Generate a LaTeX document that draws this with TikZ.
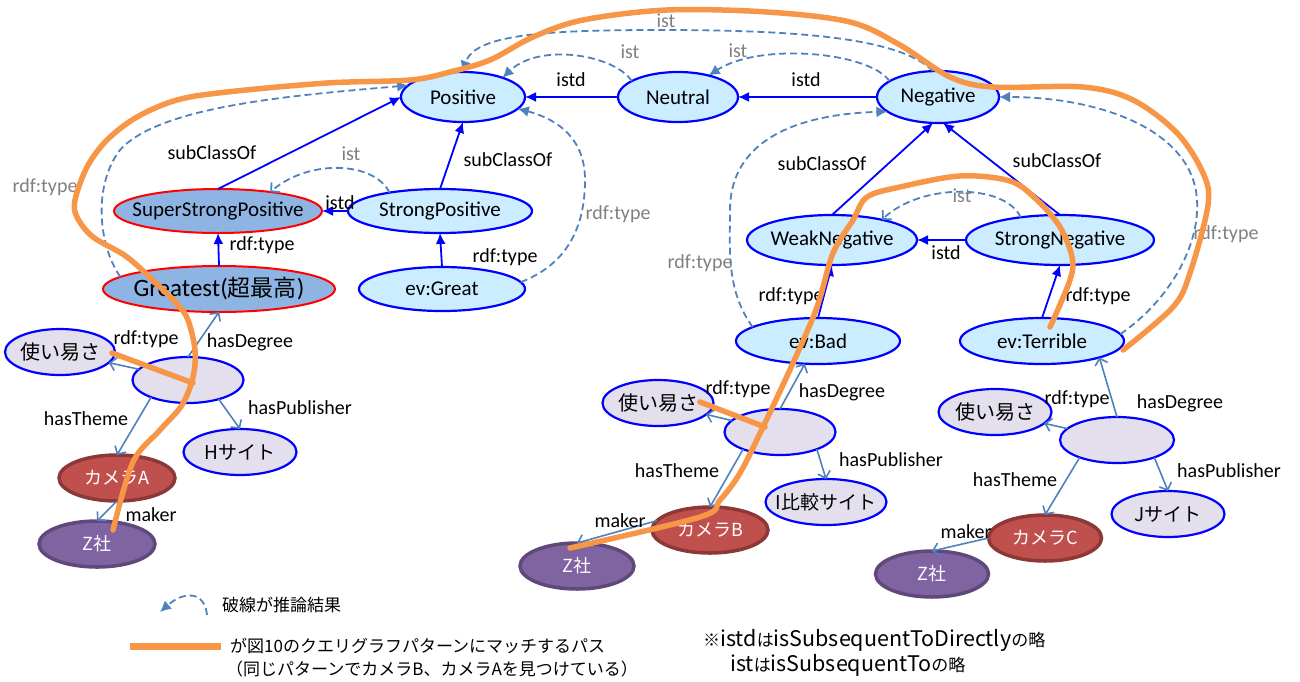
\documentclass[tikz,border=0pt]{standalone}
\usepackage{fontspec}
\setmainfont{Carlito}
\newfontfamily\jp{Noto Sans CJK JP}
\usetikzlibrary{shapes.geometric,arrows.meta}
\definecolor{nblue}{HTML}{0000FF}
\definecolor{lblue}{HTML}{CCECFF}
\definecolor{mblue}{HTML}{8EB4E3}
\definecolor{lav}{HTML}{E4DFEC}
\definecolor{camred}{HTML}{C0504D}
\definecolor{camedge}{HTML}{8C3836}
\definecolor{purp}{HTML}{8064A2}
\definecolor{purpedge}{HTML}{5F497A}
\definecolor{steel}{HTML}{4F81BD}
\definecolor{orng}{HTML}{F79646}
\definecolor{glbl}{HTML}{808080}
\newcommand{\lat}[1]{{\fontsize{21.5}{23}\selectfont #1}}
\begin{document}
\begin{tikzpicture}[x=1pt,y=-1pt,
  base/.style={ellipse, inner xsep=-45pt, inner ysep=-8pt, outer sep=0pt, font=\fontsize{21}{23}\selectfont},
  cls/.style={base, draw=nblue, line width=2.2pt, fill=lblue},
  supr/.style={base, draw=red, line width=2pt, fill=mblue},
  inst/.style={base, draw=nblue, line width=2.2pt, fill=lav, font=\jp\fontsize{19}{21}\selectfont},
  cam/.style={base, draw=camedge, line width=3.5pt, fill=camred, text=white, font=\jp\fontsize{18}{20}\selectfont},
  comp/.style={base, draw=purpedge, line width=3.5pt, fill=purp, text=white, font=\jp\fontsize{18}{20}\selectfont},
  lbl/.style={inner sep=0pt, font=\fontsize{20}{22}\selectfont},
  glab/.style={lbl, text=glbl},
  solidarr/.style={draw=nblue, line width=1.8pt, -{Latex[length=11pt,width=10pt]}},
  thinarr/.style={draw=steel, line width=1.6pt, -{Straight Barb[length=6pt,width=13pt]}},
  infer/.style={draw=steel, line width=1.8pt, dash pattern=on 7pt off 4pt, -{Latex[length=11pt,width=11pt]}},
  inferb/.style={draw=steel, line width=1.8pt, dash pattern=on 7pt off 4pt, -{Straight Barb[length=6pt,width=13pt]}},
  hl/.style={draw=orng, line width=5.5pt, line cap=round, line join=round},
  legtxt/.style={inner sep=0pt, anchor=west, font=\jp\fontsize{17}{19}\selectfont}
]
\useasboundingbox (0,0) rectangle (1300,681);

% class nodes
\node[cls, minimum width=124pt, minimum height=50pt] (pos) at (463,97) {Positive};
\node[cls, minimum width=120pt, minimum height=50pt] (neu) at (678,97) {Neutral};
\node[cls, minimum width=122pt, minimum height=52pt] (neg) at (938,97) {Negative};
\node[supr, minimum width=208pt, minimum height=44pt] (ssp) at (218,211) {SuperStrongPositive};
\node[cls, minimum width=184pt, minimum height=44pt] (sp) at (440,211) {StrongPositive};
\node[supr, minimum width=232pt, minimum height=46pt, font=\fontsize{25}{27}\selectfont] (gr) at (219,289) {Greatest({\jp\fontsize{23}{25}\selectfont 超最高})};
\node[cls, minimum width=166pt, minimum height=44pt] (evg) at (442,289) {ev:Great};
\node[cls, minimum width=170pt, minimum height=50pt] (wn) at (832,240) {WeakNegative};
\node[cls, minimum width=188pt, minimum height=50pt] (sn) at (1060,240) {StrongNegative};
\node[cls, minimum width=164pt, minimum height=46pt] (evb) at (818,341) {ev:Bad};
\node[cls, minimum width=164pt, minimum height=46pt] (evt) at (1042,341) {ev:Terrible};

% instance nodes, left
\node[inst, minimum width=110pt, minimum height=46pt, font=\jp\fontsize{20}{22}\selectfont] (use1) at (60,352) {使い易さ};
\node[inst, minimum width=111pt, minimum height=46pt] (bl) at (188,380) {};
\node[inst, minimum width=113pt, minimum height=46pt] (hs) at (240,452) {Hサイト};
\node[cam, minimum width=116pt, minimum height=46pt] (ca) at (117,478) {カメラA};
\node[comp, minimum width=116pt, minimum height=46pt] (z1) at (97,544) {Z社};
% middle
\node[inst, minimum width=111pt, minimum height=46pt, font=\jp\fontsize{20}{22}\selectfont] (use2) at (658,403) {使い易さ};
\node[inst, minimum width=111pt, minimum height=46pt] (bm) at (780,432) {};
\node[inst, minimum width=121pt, minimum height=46pt] (is) at (826,502) {I比較サイト};
\node[cam, minimum width=116pt, minimum height=46pt] (cb) at (710,530) {カメラB};
\node[comp, minimum width=114pt, minimum height=46pt] (z2) at (577,566) {Z社};
% right
\node[inst, minimum width=113pt, minimum height=46pt, font=\jp\fontsize{20}{22}\selectfont] (use3) at (995,412) {使い易さ};
\node[inst, minimum width=114pt, minimum height=46pt] (br) at (1117,440) {};
\node[inst, minimum width=113pt, minimum height=46pt] (js) at (1168,514) {Jサイト};
\node[cam, minimum width=113pt, minimum height=46pt] (cc) at (1045,538) {カメラC};
\node[comp, minimum width=113pt, minimum height=46pt] (z3) at (932,574) {Z社};

% solid blue edges
\draw[solidarr] (neu.west) -- (pos.east);
\draw[solidarr] (neg.west) -- (neu.east);
\draw[solidarr] (ssp.north) -- (pos.west);
\draw[solidarr] (sp.north) -- (pos.south);
\draw[solidarr] (sp.west) -- (ssp.east);
\draw[solidarr] (gr.north) -- (ssp.south);
\draw[solidarr] (evg.north) -- (sp.south);
\draw[solidarr] (wn.north) -- (neg.259);
\draw[solidarr] (sn.north) -- (neg.281);
\draw[solidarr] (sn.west) -- (wn.east);
\draw[solidarr] (evb.north) -- (wn.south);
\draw[solidarr] (evt.north) -- (sn.south);

% thin steel edges
\draw[thinarr] (bl) -- (use1);
\draw[thinarr] (bl.north) -- (gr.south);
\draw[thinarr] (bl.-32) -- (hs.north);
\draw[thinarr] (bl.205) -- (ca.north);
\draw[thinarr] (ca.south) -- (z1.north);
\draw[thinarr] (bm) -- (use2);
\draw[thinarr] (bm.north) -- (evb.240);
\draw[thinarr] (bm.-25) -- (is.north);
\draw[thinarr] (bm.205) -- (cb.north);
\draw[thinarr] (cb.170) -- (z2.north);
\draw[thinarr] (br) -- (use3);
\draw[thinarr] (br.north) -- (evt.-16);
\draw[thinarr] (br.-25) -- (js.north);
\draw[thinarr] (br.205) -- (cc.north);
\draw[thinarr] (cc.west) -- (z3.north);

% inferred (dashed) edges
\draw[infer] (neu.161) .. controls (615,55) and (540,42) .. (pos.26);
\draw[infer] (neg.162) .. controls (870,52) and (760,42) .. (neu.35);
\draw[infer] (neg.101) .. controls (900,38) and (800,30) .. (660,30) .. controls (540,30) and (475,35) .. (pos.92);
\draw[infer] (evt.5) .. controls (1170,300) and (1200,245) .. (1197,200) .. controls (1193,130) and (1100,97) .. (neg.east);
\draw[infer] (evb.168) .. controls (726,290) and (730,250) .. (730,210) .. controls (730,150) and (780,115) .. (neg.196);
\draw[infer] (evg.5) .. controls (565,265) and (585,230) .. (585,180) .. controls (585,140) and (560,120) .. (pos.-12);
\draw[infer] (gr.173) .. controls (98,245) and (93,185) .. (120,150) .. controls (160,105) and (300,95) .. (pos.168);
\draw[inferb] (sp.160) .. controls (375,162) and (310,158) .. (ssp.20);
\draw[inferb] (sn.150) .. controls (1005,183) and (920,183) .. (wn.22);

% edge labels
\node[lbl] (l1) at (571,80) {istd};
\node[lbl] (l2) at (806,80) {istd};
\node[lbl] (l3) at (212,153) {subClassOf};
\node[lbl] (l4) at (508,160) {subClassOf};
\node[lbl] (l5) at (340,203) {istd};
\node[lbl] (l6) at (262,245) {rdf:type};
\node[lbl] (l7) at (505,257) {rdf:type};
\node[lbl] (l8) at (822,164) {subClassOf};
\node[lbl] (l9) at (1057,161) {subClassOf};
\node[lbl] (l10) at (946,253) {istd};
\node[lbl] (l11) at (791,296) {rdf:type};
\node[lbl] (l12) at (1098,296) {rdf:type};
\node[lbl] (l13) at (146,339) {rdf:type};
\node[lbl] (l14) at (250,342) {hasDegree};
\node[lbl] (l15) at (300,408) {hasPublisher};
\node[lbl] (l16) at (86,419) {hasTheme};
\node[lbl] (l17) at (151,515) {maker};
\node[lbl] (l18) at (738,389) {rdf:type};
\node[lbl] (l19) at (842,392) {hasDegree};
\node[lbl] (l20) at (891,460) {hasPublisher};
\node[lbl] (l21) at (677,471) {hasTheme};
\node[lbl] (l22) at (620,521) {maker};
\node[lbl] (l23) at (1077,399) {rdf:type};
\node[lbl] (l24) at (1180,403) {hasDegree};
\node[lbl] (l25) at (1229,471) {hasPublisher};
\node[lbl] (l26) at (1015,480) {hasTheme};
\node[lbl] (l27) at (966,532) {maker};
\node[glab] (g1) at (630,52) {ist};
\node[glab] (g2) at (738,51) {ist};
\node[glab] (g3) at (666,21) {ist};
\node[glab] (g4) at (351,154) {ist};
\node[glab] (g5) at (962,196) {ist};
\node[glab] (g6) at (45,187) {rdf:type};
\node[glab] (g7) at (618,214) {rdf:type};
\node[glab] (g8) at (700,263) {rdf:type};
\node[glab] (g9) at (1226,234) {rdf:type};

% orange highlighted paths
\draw[hl] plot[smooth, tension=0.55] coordinates {(113,530) (133,462) (160,430) (182,405) (193,377) (195,350) (188,320) (178,305) (160,287) (127,257) (93,237) (77,217) (75,200) (87,167) (107,140) (137,117) (177,100) (227,92) (327,83) (410,80) (450,72) (490,60) (533,37) (583,20) (667,10) (767,12) (850,22) (900,45) (950,77) (993,87) (1083,87) (1133,100) (1177,133) (1203,173) (1208,205) (1190,273) (1173,307) (1123,350)};
\draw[hl] plot[smooth, tension=0.55] coordinates {(570,548) (700,517) (720,500) (740,473) (763,427) (793,363) (817,307) (833,253) (853,220) (867,197) (900,187) (960,176) (1010,181) (1037,200) (1060,227) (1072,257) (1070,280) (1050,327)};
\draw[hl] (112,353) -- (193,383);
\draw[hl] (700,402) -- (765,427);

% legend
\coordinate (leg1a) at (207,615);
\coordinate (leg1b) at (160,612);
\draw[infer] (leg1a) .. controls (205,592) and (185,590) .. (leg1b);
\node[legtxt] (t1) at (222,605) {破線が推論結果};
\coordinate (leg2a) at (130,646);
\coordinate (leg2b) at (221,646);
\draw[draw=orng, line width=7pt] (leg2a) -- (leg2b);
\node[legtxt] (t2) at (230,646) {が図10のクエリグラフパターンにマッチするパス};
\node[legtxt] (t3) at (226,669) {（同じパターンでカメラB、カメラAを見つけている）};
\node[legtxt] (t4) at (703,640) {※\lat{istd}は\lat{isSubsequentToDirectly}の略};
\node[legtxt] (t5) at (730,665) {\lat{ist}は\lat{isSubsequentTo}の略};
\end{tikzpicture}
\end{document}
